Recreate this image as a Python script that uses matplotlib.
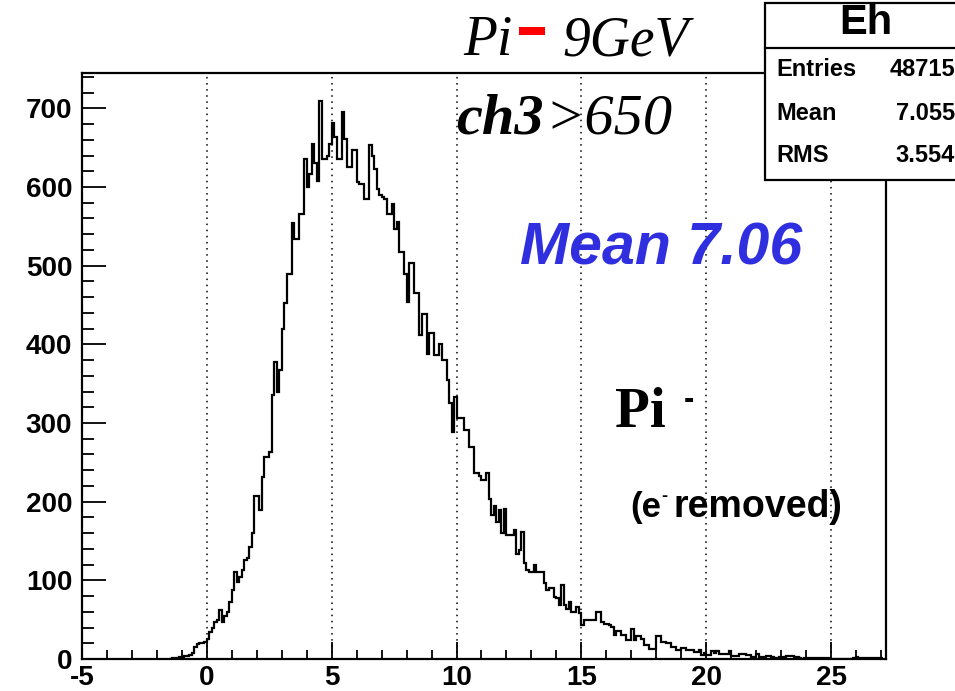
import numpy as np
import matplotlib
matplotlib.use("Agg")
from matplotlib import pyplot as plt
from matplotlib.patches import Rectangle
from matplotlib.lines import Line2D
from matplotlib.ticker import MultipleLocator

# histogram Eh, bins of 0.1 starting at -1.5
bin_start = -1.5
bin_width = 0.1
counts = [
    0, 1, 1, 0, 2, 2, 4, 4, 5, 8, 15, 19, 20, 20, 21,               # -1.5 .. -0.1
    25, 34, 40, 47, 50, 62, 47, 55, 60, 72,                         # 0.0 .. 0.9
    88, 110, 98, 104, 113, 126, 128, 143, 160, 207,                 # 1.0 .. 1.9
    207, 190, 232, 257, 257, 263, 335, 378, 340, 367,               # 2.0 .. 2.9
    420, 453, 489, 489, 554, 534, 534, 566, 566, 635,               # 3.0 .. 3.9
    600, 616, 655, 630, 608, 709, 636, 636, 640, 655,               # 4.0 .. 4.9
    681, 664, 636, 636, 695, 661, 625, 625, 647, 647,               # 5.0 .. 5.9
    606, 604, 604, 585, 585, 653, 640, 623, 598, 590,               # 6.0 .. 6.9
    587, 585, 566, 566, 578, 547, 556, 517, 517, 490,               # 7.0 .. 7.9
    454, 503, 503, 465, 465, 412, 439, 439, 388, 414,               # 8.0 .. 8.9
    414, 386, 386, 401, 380, 380, 355, 325, 289, 333,               # 9.0 .. 9.9
    306, 306, 306, 291, 291, 270, 270, 236, 236, 233,               # 10.0 .. 10.9
    228, 228, 236, 204, 183, 194, 174, 190, 160, 191,               # 11.0 .. 11.9
    158, 158, 158, 164, 134, 138, 162, 122, 113, 111,               # 12.0 .. 12.9
    111, 119, 111, 111, 111, 96, 88, 90, 90, 79,                    # 13.0 .. 13.9
    78, 69, 94, 69, 64, 73, 60, 60, 66, 58,                         # 14.0 .. 14.9
    43, 50, 50, 50, 50, 50, 60, 60, 47, 45,                         # 15.0 .. 15.9
    45, 43, 41, 30, 35, 35, 30, 30, 24, 24,                         # 16.0 .. 16.9
    38, 24, 29, 29, 26, 18, 18, 13, 13, 13,                         # 17.0 .. 17.9
    29, 29, 22, 22, 20, 20, 15, 15, 11, 11,                         # 18.0 .. 18.9
    14, 14, 11, 11, 12, 9, 9, 11, 5, 8,                             # 19.0 .. 19.9
    5, 5, 10, 8, 10, 6, 6, 6, 6, 10,                                # 20.0 .. 20.9
    4, 4, 4, 7, 7, 7, 5, 5, 2, 2,                                   # 21.0 .. 21.9
    6, 2, 2, 2, 4, 4, 2, 1, 1, 2,                                   # 22.0 .. 22.9
    2, 2, 4, 4, 4, 2, 2, 1, 0, 1,                                   # 23.0 .. 23.9
    1, 1, 1, 1, 1, 0, 1, 1, 1, 0,                                   # 24.0 .. 24.9
    0, 0, 0, 0, 0, 0, 0, 0, 0, 1,                                   # 25.0 .. 25.9
    2, 1, 1, 1, 1, 1, 1, 1, 1, 1,                                   # 26.0 .. 26.9
    1,                                                              # 27.0
]

x_ticks = [-5, 0, 5, 10, 15, 20, 25]
y_ticks = [0, 100, 200, 300, 400, 500, 600, 700]

stats_title = "Eh"
stats_names = ["Entries", "Mean", "RMS"]
stats_values = ["48715", "7.055", "3.554"]

plt.rcParams['axes.unicode_minus'] = False

fig = plt.figure(figsize=(9.55, 6.91), dpi=100)
ax = fig.add_axes([0.0859, 0.0463, 0.8418, 0.8481])

edges = bin_start + bin_width * np.arange(len(counts) + 1)
ax.stairs(counts, edges, color='black', linewidth=1.6, baseline=None, zorder=3)

ax.set_xlim(-5, 27.2)
ax.set_ylim(0, 745)
ax.set_xticks(x_ticks)
ax.set_yticks(y_ticks)
ax.xaxis.set_minor_locator(MultipleLocator(1))
ax.yaxis.set_minor_locator(MultipleLocator(20))
ax.grid(axis='x', which='major', color='black', linestyle=(0, (1, 3)), linewidth=1.1)

ax.tick_params(axis='x', which='major', direction='in', length=12.5, width=1.3, pad=4)
ax.tick_params(axis='x', which='minor', direction='in', length=6.2, width=1.3)
ax.tick_params(axis='y', which='major', direction='in', length=17, width=1.3, pad=7)
ax.tick_params(axis='y', which='minor', direction='in', length=8.5, width=1.3)
for lbl in ax.get_xticklabels() + ax.get_yticklabels():
    lbl.set_fontfamily('Liberation Sans')
    lbl.set_fontweight('bold')
    lbl.set_fontsize(20)
for sp in ax.spines.values():
    sp.set_linewidth(1.6)

# annotations
serif = 'Liberation Serif'
fig.text(0.485, 0.920, "Pi", family=serif, style='italic', fontsize=40)
fig.patches.append(Rectangle((0.5435, 0.9493), 0.0272, 0.0116, transform=fig.transFigure,
                             facecolor='#ff0000', edgecolor='none'))
fig.text(0.5885, 0.920, "9GeV", family=serif, style='italic', fontsize=40)
fig.text(0.478, 0.8075, "ch3", family=serif, style='italic', weight='bold', fontsize=42)
fig.text(0.571, 0.8075, ">650", family=serif, style='italic', fontsize=42)

fig.text(0.5445, 0.6179, "Mean 7.06", family='Liberation Sans', style='italic',
         weight='bold', fontsize=42.5, color='#2f2fe0')

fig.text(0.644, 0.382, "Pi", family=serif, weight='bold', fontsize=41)
fig.text(0.7215, 0.4218, "-", family='Liberation Sans', weight='bold', fontsize=22,
         ha='center', va='center')
fig.text(0.660, 0.2518, "(e", family='Liberation Sans', weight='bold', fontsize=25)
fig.text(0.6955, 0.2810, "-", family='Liberation Sans', weight='bold', fontsize=13,
         ha='center', va='center')
fig.text(0.7055, 0.2518, "removed)", family='Liberation Sans', weight='bold', fontsize=27)

# stats box (runs past the right edge like the original)
box_x0, box_y0 = 765 / 955, 1 - 180 / 691
box_w, box_h = 203 / 955, 177 / 691
fig.patches.append(Rectangle((box_x0, box_y0), box_w, box_h, transform=fig.transFigure,
                             facecolor='white', edgecolor='black', linewidth=1.6, zorder=5))
fig.lines.append(Line2D([box_x0, box_x0 + box_w], [1 - 48 / 691, 1 - 48 / 691],
                        transform=fig.transFigure, color='black', linewidth=1.6, zorder=6))
fig.text(0.9068, 0.9667, stats_title, family='Liberation Sans', weight='bold', fontsize=30,
         ha='center', va='center', zorder=7)
row_y = [1 - 70 / 691, 1 - 113 / 691, 1 - 156 / 691]
for name, val, yy in zip(stats_names, stats_values, row_y):
    fig.text(0.8126, yy, name, family='Liberation Sans', weight='bold', fontsize=17,
             ha='left', va='center', zorder=7)
    fig.text(1.0, yy, val, family='Liberation Sans', weight='bold', fontsize=17,
             ha='right', va='center', zorder=7)

fig.savefig('out.png', dpi=100)
